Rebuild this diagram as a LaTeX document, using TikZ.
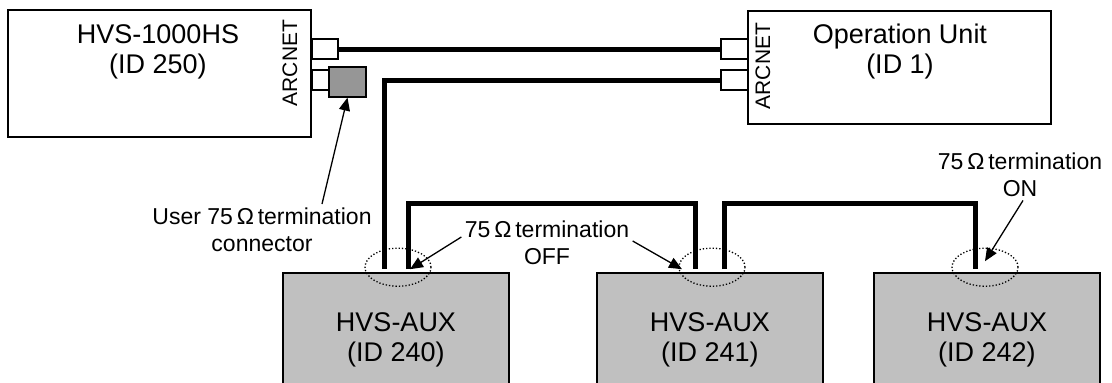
\documentclass[tikz,border=0pt]{standalone}
\usepackage{fontspec}
\setmainfont{Liberation Sans}
\usepackage{xcolor}
\usetikzlibrary{arrows.meta, positioning}
\definecolor{auxgray}{RGB}{192,192,192}
\definecolor{termgray}{RGB}{150,150,150}

\begin{document}
\begin{tikzpicture}[
    x=1pt, y=-1pt,
    unit/.style={
        rectangle,
        draw,
        line width=1.6pt,
        inner sep=0pt
    },
    aux/.style={unit, fill=auxgray, minimum width=226pt, minimum height=117pt},
    port/.style={rectangle, draw, line width=1.2pt, fill=white, inner sep=0pt,
        minimum width=26pt, minimum height=20pt},
    boxtext/.style={align=center, font=\fontsize{27}{30}\selectfont},
    note/.style={align=center, font=\fontsize{23}{27}\selectfont},
    netlabel/.style={rotate=90, inner sep=0pt, font=\fontsize{21}{21}\selectfont},
    cable/.style={line width=5pt},
    pointer/.style={line width=1.3pt, -{Triangle[length=13pt, width=11pt]}},
    ring/.style={dotted, line width=1.3pt}
]
\useasboundingbox (0,0) rectangle (1112,383);
\clip (0,0) rectangle (1112,383);

% Switcher and operation unit
\node[unit, minimum width=303pt, minimum height=127pt] (hs) at (159.5,73.5) {};
\node[boxtext] (hstext) at (158,52) {HVS-1000HS\\(ID 250)};
\node[netlabel] (hsnet) at (290,63) {ARCNET};

\node[unit, minimum width=303pt, minimum height=113pt] (op) at (899.5,67.5) {};
\node[boxtext] (optext) at (900,52) {Operation Unit\\(ID 1)};
\node[netlabel] (opnet) at (763,66) {ARCNET};

% ARCNET ports
\node[port] (hsp1) at (325,49) {};
\node[port] (hsp2) at (325,80) {};
\node[unit, fill=termgray, line width=1.2pt, minimum width=37pt, minimum height=30pt] (term) at (347.5,82) {};
\node[port, minimum width=27pt] (opp1) at (734.5,49) {};
\node[port, minimum width=27pt] (opp2) at (734.5,80) {};

% AUX units
\node[aux] (aux240) at (396,331.5) {};
\node[aux] (aux241) at (710,331.5) {};
\node[aux] (aux242) at (987,331.5) {};
\node[boxtext] (aux240t) at ([yshift=-68pt]aux240.north) {HVS-AUX\\(ID 240)};
\node[boxtext] (aux241t) at ([yshift=-68pt]aux241.north) {HVS-AUX\\(ID 241)};
\node[boxtext] (aux242t) at ([yshift=-68pt]aux242.north) {HVS-AUX\\(ID 242)};

% Cables
\draw[cable] (hsp1.east) -- (opp1.west);
\draw[cable] (opp2.west) -| ([xshift=-12pt, yshift=3pt]aux240.north);
\draw[cable] ([xshift=12pt, yshift=3pt]aux240.north) -- ++(0,-66)
    -| ([xshift=-15pt, yshift=3pt]aux241.north);
\draw[cable] ([xshift=14pt, yshift=3pt]aux241.north) -- ++(0,-66)
    -| ([xshift=-12pt, yshift=3pt]aux242.north);

% Termination marks
\draw[ring] ([xshift=2pt, yshift=5pt]aux240.north) ellipse [x radius=33pt, y radius=19pt];
\draw[ring] ([xshift=2pt, yshift=5pt]aux241.north) ellipse [x radius=33pt, y radius=19pt];
\draw[ring] ([xshift=-2pt, yshift=5pt]aux242.north) ellipse [x radius=33pt, y radius=19pt];

% Notes
\node[note] (userlbl) at (262,229.5) {User 75\,Ω\,termination\\connector};
\node[note] (offlbl) at (547,243) {75\,Ω\,termination\\OFF};
\node[note] (onlbl) at (1020,175) {75\,Ω\,termination\\ON};

\draw[pointer] ([xshift=60pt]userlbl.north) -- (term.south);
\draw[pointer] ([yshift=6pt]offlbl.west) -- ([xshift=14pt, yshift=3pt]aux240.north);
\draw[pointer] ([yshift=2pt]offlbl.east) -- ([xshift=-28pt, yshift=3pt]aux241.north);
\draw[pointer] ([xshift=3pt]onlbl.south) -- ([xshift=-2pt, yshift=11pt]aux242.north);

\end{tikzpicture}
\end{document}
